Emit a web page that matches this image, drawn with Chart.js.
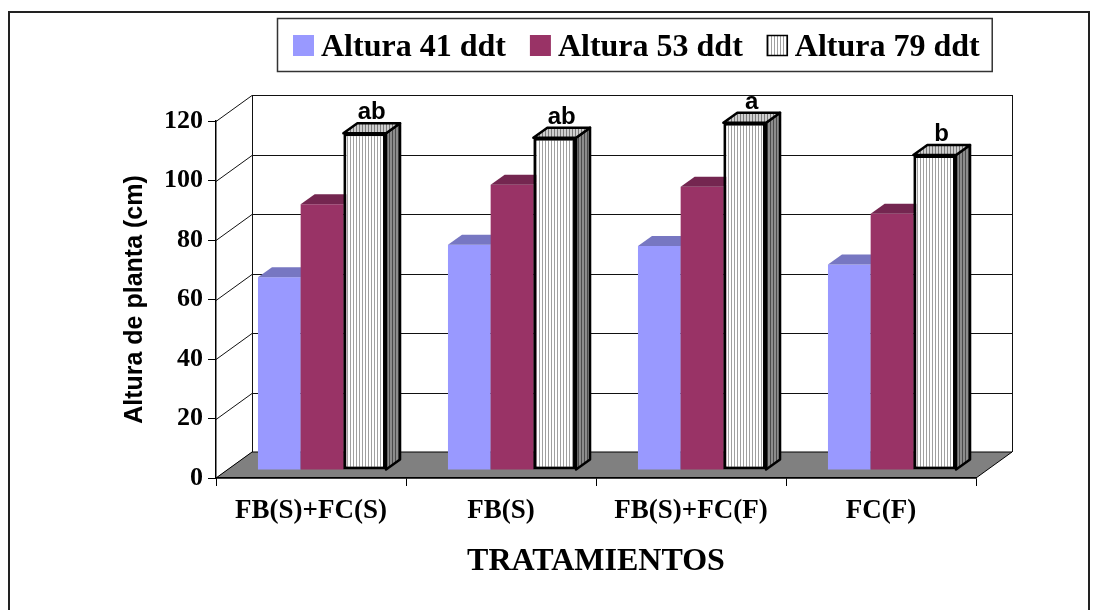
<!DOCTYPE html>
<html>
<head>
<meta charset="utf-8">
<script src="https://cdn.jsdelivr.net/npm/chart.js@4/dist/chart.umd.min.js"></script>
<style>
  html, body { margin: 0; padding: 0; background: #fff; }
  canvas { display: block; }
</style>
</head>
<body>
<canvas id="alturaChart" width="1097" height="610"></canvas>
<script>
const categories = ["FB(S)+FC(S)", "FB(S)", "FB(S)+FC(F)", "FC(F)"];
const seriesNames = ["Altura 41 ddt", "Altura 53 ddt", "Altura 79 ddt"];
const altura41 = [64.8, 75.7, 75.3, 69.1];
const altura53 = [89.3, 95.9, 95.2, 86.1];
const altura79 = [113.2, 111.7, 116.7, 105.9];
const letters79 = ["ab", "ab", "a", "b"];
const yTicks = [0, 20, 40, 60, 80, 100, 120];

const SERIF = "'Liberation Serif', 'Times New Roman', serif";
const SANS = "'Liberation Sans', Arial, sans-serif";

// fake 3d: wall depth, where the bars stand on the floor and how deep they are
const WALL = { x: 36, y: -26 };
const SHIFT = { x: 11, y: -8 };
const BAR = { x: 14, y: -10 };

const ctx = document.getElementById("alturaChart").getContext("2d");

// vertical line hatch like the excel "narrow vertical" fill
function stripes(bg, fg, step) {
  const c = document.createElement("canvas");
  c.width = step;
  c.height = 4;
  const g = c.getContext("2d");
  g.fillStyle = bg;
  g.fillRect(0, 0, step, 4);
  g.fillStyle = fg;
  g.fillRect(0, 0, 1, 4);
  return ctx.createPattern(c, "repeat");
}
const hatchFront = stripes("#ffffff", "#a0a0a0", 3);
const hatchTop = stripes("#cfcfcf", "#7a7a7a", 3);
const hatchSide = stripes("#8c8c8c", "#4a4a4a", 3);

const faces = [
  { top: "#7777c2", side: "#6a6ab2", outline: false },
  { top: "#742650", side: "#6a2248", outline: false },
  { top: hatchTop, side: hatchSide, outline: true },
];

function line(c, x1, y1, x2, y2) {
  c.beginPath();
  c.moveTo(x1, y1);
  c.lineTo(x2, y2);
  c.stroke();
}

const box3d = {
  id: "box3d",
  beforeDraw: (chart) => {
    const { ctx: c, chartArea: a, scales } = chart;
    c.save();
    c.fillStyle = "#fff";
    c.fillRect(0, 0, chart.width, chart.height);

    // outer frame
    c.strokeStyle = "#222";
    c.lineWidth = 2;
    c.strokeRect(9, 12, 1080, 640);

    // side wall diagonals + back wall gridlines
    c.strokeStyle = "#111";
    c.lineWidth = 1;
    yTicks.forEach((v) => {
      const py = Math.round(scales.y.getPixelForValue(v)) + 0.5;
      line(c, a.left, py, a.left + WALL.x, py + WALL.y);
      line(c, a.left + WALL.x, py + WALL.y, a.right + WALL.x, py + WALL.y);
    });
    line(c, a.left + WALL.x + 0.5, a.top + WALL.y, a.left + WALL.x + 0.5, a.bottom + WALL.y);
    line(c, a.right + WALL.x + 0.5, a.top + WALL.y, a.right + WALL.x + 0.5, a.bottom + WALL.y);

    // floor
    c.beginPath();
    c.moveTo(a.left, a.bottom);
    c.lineTo(a.right, a.bottom);
    c.lineTo(a.right + WALL.x, a.bottom + WALL.y);
    c.lineTo(a.left + WALL.x, a.bottom + WALL.y);
    c.closePath();
    c.fillStyle = "#808080";
    c.fill();
    c.strokeStyle = "#000";
    c.stroke();
    c.restore();
  },
  // draw the bars ourselves, left series first, so the next bar hides the faces behind it
  beforeDatasetsDraw: (chart) => {
    const c = chart.ctx;
    c.save();
    c.translate(SHIFT.x, SHIFT.y);
    chart.data.datasets.forEach((ds, d) => {
      const f = faces[d];
      chart.getDatasetMeta(d).data.forEach((bar) => {
        const { x, y, base, width } = bar.getProps(["x", "y", "base", "width"], true);
        const l = x - width / 2;
        const r = x + width / 2;
        bar.draw(c);
        c.lineWidth = 2.5;
        c.strokeStyle = "#000";
        c.lineJoin = "round";
        // side face
        c.beginPath();
        c.moveTo(r, y);
        c.lineTo(r + BAR.x, y + BAR.y);
        c.lineTo(r + BAR.x, base + BAR.y);
        c.lineTo(r, base);
        c.closePath();
        c.fillStyle = f.side;
        c.fill();
        if (f.outline) c.stroke();
        // top face
        c.beginPath();
        c.moveTo(l, y);
        c.lineTo(l + BAR.x, y + BAR.y);
        c.lineTo(r + BAR.x, y + BAR.y);
        c.lineTo(r, y);
        c.closePath();
        c.fillStyle = f.top;
        c.fill();
        if (f.outline) c.stroke();
      });
    });
    c.restore();
    return false;
  },
  afterDraw: (chart) => {
    const c = chart.ctx;
    const datasets = chart.data.datasets;
    c.save();

    // letters over the 79 ddt bars
    c.font = "bold 24px " + SANS;
    c.fillStyle = "#000";
    c.textAlign = "center";
    c.textBaseline = "alphabetic";
    chart.getDatasetMeta(2).data.forEach((bar, i) => {
      const { x, y } = bar.getProps(["x", "y"], true);
      c.fillText(letters79[i], x + SHIFT.x + BAR.x / 2, y + SHIFT.y + BAR.y - 4);
    });

    // legend box drawn by hand so it can sit where excel put it
    c.textAlign = "left";
    c.font = "bold 32px " + SERIF;
    let x = 293;
    datasets.forEach((ds, i) => {
      c.fillStyle = ds.backgroundColor;
      c.fillRect(x, 35, 21, 21);
      if (ds.borderWidth) {
        c.strokeStyle = "#000";
        c.lineWidth = 1.5;
        c.strokeRect(x + 0.5, 35.5, 20, 20);
      }
      x += 28;
      c.fillStyle = "#000";
      c.fillText(ds.label, x, 56);
      x += c.measureText(ds.label).width + (i < datasets.length - 1 ? 24 : 0);
    });
    c.strokeStyle = "#333";
    c.lineWidth = 1.5;
    c.strokeRect(277.5, 18.5, x + 12 - 277, 53);
    c.restore();
  },
};

const chart = new Chart(ctx, {
  type: "bar",
  data: {
    labels: categories,
    datasets: [
      {
        label: seriesNames[0],
        data: altura41,
        backgroundColor: "#9999ff",
        borderWidth: 0,
      },
      {
        label: seriesNames[1],
        data: altura53,
        backgroundColor: "#993366",
        borderWidth: 0,
      },
      {
        label: seriesNames[2],
        data: altura79,
        backgroundColor: hatchFront,
        borderColor: "#000",
        borderWidth: 3,
        borderSkipped: false,
      },
    ],
  },
  options: {
    responsive: false,
    animation: false,
    devicePixelRatio: 1,
    categoryPercentage: 0.674,
    barPercentage: 1,
    layout: { padding: { left: 100, right: 121, top: 121, bottom: 0 } },
    plugins: {
      legend: { display: false },
      tooltip: { enabled: false },
    },
    scales: {
      x: {
        grid: { drawOnChartArea: false, drawTicks: true, tickLength: 8, color: "#000", offset: true },
        border: { display: true, color: "#000", width: 1.5 },
        ticks: {
          color: "#000",
          font: { family: SERIF, size: 27, weight: "bold" },
          padding: 9,
          maxRotation: 0,
          autoSkip: false,
        },
        title: {
          display: true,
          text: "TRATAMIENTOS",
          color: "#000",
          font: { family: SERIF, size: 32, weight: "bold" },
          padding: { top: 0, bottom: 29 },
        },
        afterFit: (scale) => {
          scale.height = 132;
        },
      },
      y: {
        min: 0,
        max: 120,
        afterBuildTicks: (scale) => {
          scale.ticks = yTicks.map((v) => ({ value: v }));
        },
        grid: { drawOnChartArea: false, drawTicks: true, tickLength: 8, color: "#000" },
        border: { display: true, color: "#000", width: 1.5 },
        ticks: {
          color: "#000",
          font: { family: SERIF, size: 26, weight: "bold" },
          padding: 5,
        },
        title: {
          display: true,
          text: "Altura de planta (cm)",
          color: "#000",
          font: { family: SANS, size: 25, weight: "bold" },
          padding: { top: 20, bottom: 0 },
        },
        afterFit: (scale) => {
          scale.width = 116;
        },
      },
    },
  },
  plugins: [box3d],
});
</script>
</body>
</html>
